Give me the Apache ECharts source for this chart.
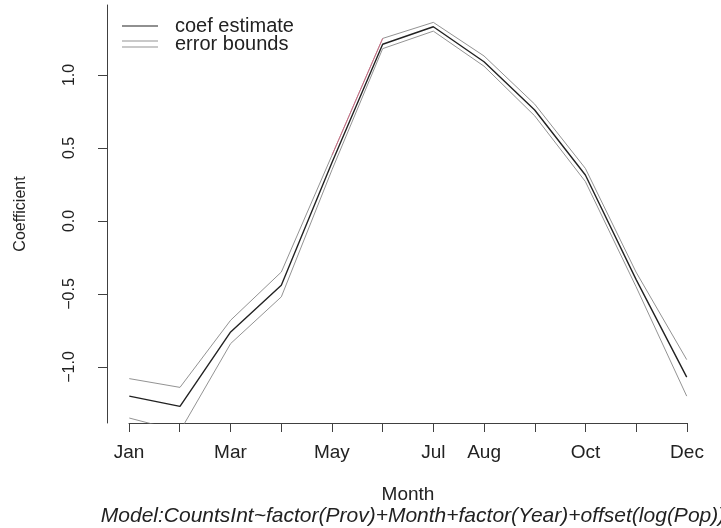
<!DOCTYPE html>
<html>
<head>
<meta charset="utf-8">
<script src="https://cdn.jsdelivr.net/npm/echarts@6/dist/echarts.min.js"></script>
<style>
  html, body { margin: 0; padding: 0; background: #ffffff; }
  #chart { width: 721px; height: 528px; }
</style>
</head>
<body>
<div id="chart"></div>
<script>
// Monthly coefficient estimates with their error bounds
const months = ['Jan', 'Feb', 'Mar', 'Apr', 'May', 'Jun', 'Jul', 'Aug', 'Sep', 'Oct', 'Nov', 'Dec'];
const coefEstimate = [-1.20, -1.27, -0.76, -0.44, 0.40, 1.21, 1.33, 1.09, 0.76, 0.315, -0.40, -1.07];
const upperBound   = [-1.08, -1.14, -0.68, -0.35, 0.45, 1.25, 1.36, 1.13, 0.80, 0.36, -0.35, -0.95];
const lowerBound   = [-1.35, -1.44, -0.84, -0.52, 0.35, 1.18, 1.30, 1.06, 0.72, 0.27, -0.45, -1.20];

// Axis labelling
const yTicks = [-1, -0.5, 0, 0.5, 1];
const labelledMonths = ['Jan', 'Mar', 'May', 'Jul', 'Aug', 'Oct', 'Dec'];
const tintedMonths = ['May', 'Jun'];

const modelFormula = 'Model:CountsInt~factor(Prov)+Month+factor(Year)+offset(log(Pop))';

const FONT = "'Liberation Sans', Arial, Helvetica, sans-serif";
const INK = '#222222';
const BOUND = '#939393';

const toPairs = vals => vals.map((v, i) => [i + 1, v]);
const tintedPairs = months
  .map((m, i) => [m, i])
  .filter(([m]) => tintedMonths.includes(m))
  .map(([, i]) => [i + 1, upperBound[i]]);

const chart = echarts.init(document.getElementById('chart'), null, { renderer: 'canvas' });

chart.setOption({
  backgroundColor: '#ffffff',
  animation: false,
  textStyle: { fontFamily: FONT },
  title: {
    text: modelFormula,
    left: 408,
    textAlign: 'center',
    top: 501,
    textStyle: { fontFamily: FONT, fontStyle: 'italic', fontWeight: 'normal', fontSize: 21, color: INK }
  },
  legend: {
    orient: 'vertical',
    left: 122,
    top: 16,
    padding: 0,
    itemWidth: 36,
    itemHeight: 14,
    itemGap: -2,
    selectedMode: false,
    textStyle: { fontFamily: FONT, fontSize: 20, color: INK, lineHeight: 14, padding: [0, 0, 0, 12] },
    data: [
      { name: 'coef estimate', icon: 'path://M0,0H36V1H0Z' },
      { name: 'error bounds', icon: 'path://M0,0H36V1H0ZM0,6H36V7H0Z' }
    ]
  },
  grid: [
    // plotting region
    { left: 107, right: 12, top: 5, bottom: 105 },
    // month axis, spanning Jan..Dec only
    { left: 129, right: 34, top: 5, bottom: 105 }
  ],
  xAxis: [
    { gridIndex: 0, type: 'value', min: 0.56, max: 12.44, show: false },
    {
      gridIndex: 1, type: 'value', min: 1, max: 12, interval: 1,
      axisLine: { show: true, lineStyle: { color: '#404040', width: 1 } },
      axisTick: { show: true, length: 9, lineStyle: { color: '#404040' } },
      axisLabel: {
        customValues: labelledMonths.map(m => months.indexOf(m) + 1),
        formatter: v => months[v - 1],
        fontSize: 19, color: INK, margin: 20, fontFamily: FONT
      },
      splitLine: { show: false },
      name: 'Month',
      nameLocation: 'middle',
      nameGap: 62,
      nameTextStyle: { fontSize: 19, color: INK, fontFamily: FONT }
    }
  ],
  yAxis: [
    {
      gridIndex: 0, type: 'value', min: -1.384, max: 1.479,
      axisLine: { show: true, lineStyle: { color: '#404040', width: 1 } },
      axisTick: { show: true, length: 9, customValues: yTicks, lineStyle: { color: '#404040' } },
      axisLabel: {
        customValues: yTicks,
        rotate: 90,
        formatter: v => v.toFixed(1).replace('-', '\u2212'),
        fontSize: 16, color: INK, margin: 29, fontFamily: FONT
      },
      splitLine: { show: false },
      name: 'Coefficient',
      nameLocation: 'middle',
      nameRotate: 90,
      nameGap: 78,
      nameTextStyle: { fontSize: 16, color: INK, fontFamily: FONT }
    },
    { gridIndex: 1, type: 'value', min: 0, max: 1, show: false }
  ],
  series: [
    {
      name: 'error bounds', type: 'line', xAxisIndex: 0, yAxisIndex: 0,
      data: toPairs(upperBound), showSymbol: false, color: BOUND,
      lineStyle: { color: BOUND, width: 1 }
    },
    {
      name: 'error bounds', type: 'line', xAxisIndex: 0, yAxisIndex: 0,
      data: toPairs(lowerBound), showSymbol: false, color: BOUND,
      lineStyle: { color: BOUND, width: 1 }
    },
    {
      name: 'coef estimate', type: 'line', xAxisIndex: 0, yAxisIndex: 0,
      data: toPairs(coefEstimate), showSymbol: false, color: INK,
      lineStyle: { color: INK, width: 1.4 }
    },
    {
      name: 'tinted upper', type: 'line', xAxisIndex: 0, yAxisIndex: 0,
      data: tintedPairs, showSymbol: false, color: '#d9607e',
      lineStyle: { color: '#d9607e', width: 1, opacity: 0.8 }
    }
  ]
});
</script>
</body>
</html>
